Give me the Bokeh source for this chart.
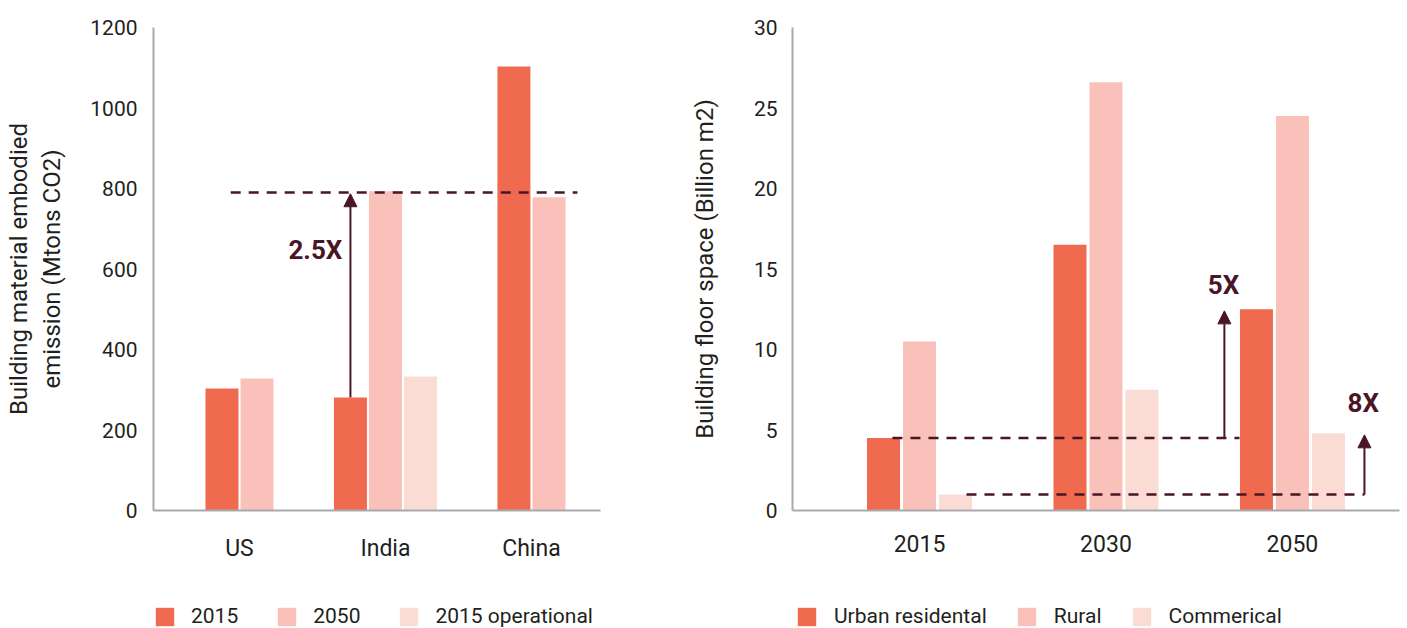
from bokeh.plotting import figure
from bokeh.models import (Range1d, FixedTicker, Legend, LegendItem, Arrow, NormalHead, Label)
from bokeh.layouts import row, column
from bokeh.embed import file_html
from bokeh.resources import INLINE

# ---------------- data ----------------
countries = ["US", "India", "China"]
emb_2015 = [303, 281, 1103]
emb_2050 = [328, 793, 778]
op_2015 = [None, 333, None]
left_series = [("2015", emb_2015), ("2050", emb_2050), ("2015 operational", op_2015)]
left_ticks = [0, 200, 400, 600, 800, 1000, 1200]

years = ["2015", "2030", "2050"]
urban = [4.5, 16.5, 12.5]
rural = [10.5, 26.6, 24.5]
commercial = [1.0, 7.5, 4.8]
right_series = [("Urban residental", urban), ("Rural", rural), ("Commerical", commercial)]
right_ticks = [0, 5, 10, 15, 20, 25, 30]

# annotations (data units)
left_ref_level = 790
left_ref_x = [-0.06, 2.315]
left_arrow_top = 787
left_ann_text = "2.5X"
left_ann_pos = (0.52, 646)

right_ref1_x = [-0.145, 1.716]
right_arrow1 = (1.635, 12.4)
right_ann1 = ("5X", 1.63, 14.0)
right_ref2_x = [0.252, 2.386]
right_arrow2 = (2.386, 4.7)
right_ann2 = ("8X", 2.38, 6.7)

# ---------------- style ----------------
COLORS = ["#F06A50", "#F9C1B9", "#FADCD5"]
MAROON = "#4A1526"
TEXT = "#231F20"
AXIS = "#A7A9AC"
FONT = "Roboto"
MAIN_H = 600
LEG_H = 28
W1 = 687
W2 = 720


def bar_positions(series, step):
    n_groups = len(series[0][1])
    out = [([], []) for _ in series]
    for g in range(n_groups):
        present = [s for s in range(len(series)) if series[s][1][g] is not None]
        n = len(present)
        for k, s in enumerate(present):
            out[s][0].append(g + (k - (n - 1) / 2) * step)
            out[s][1].append(series[s][1][g])
    return out


def make_fig(width, xr, yr, border_lr, ticks_y, cats):
    p = figure(width=width, height=MAIN_H, x_range=Range1d(*xr), y_range=Range1d(*yr),
               output_backend="svg", toolbar_location=None,
               min_border_left=border_lr[0], min_border_right=border_lr[1],
               min_border_top=27, min_border_bottom=MAIN_H - 510)
    p.outline_line_color = None
    p.grid.visible = False
    p.yaxis.ticker = FixedTicker(ticks=ticks_y)
    p.xaxis.ticker = FixedTicker(ticks=list(range(len(cats))))
    p.xaxis.major_label_overrides = {i: c for i, c in enumerate(cats)}
    for ax in (p.xaxis, p.yaxis):
        ax.axis_line_color = AXIS
        ax.axis_line_width = 2
        ax.major_tick_line_color = None
        ax.minor_tick_line_color = None
        ax.major_label_text_font = FONT
        ax.major_label_text_color = TEXT
        ax.axis_label_text_font = FONT
        ax.axis_label_text_color = TEXT
        ax.axis_label_text_font_style = "normal"
    p.yaxis.major_label_text_font_size = "21px"
    p.xaxis.major_label_text_font_size = "23px"
    p.yaxis.axis_label_text_font_size = "24px"
    p.xaxis.major_label_standoff = 18
    p.yaxis.major_label_standoff = 10
    return p


def add_bars(p, series, step, width):
    pos = bar_positions(series, step)
    for (name, _), (xs, ys), col in zip(series, pos, COLORS):
        p.vbar(x=xs, top=ys, width=width, bottom=0, fill_color=col, line_color=None)


def legend_fig(width, series, x0, standoff, spacing):
    lf = figure(width=width, height=LEG_H, output_backend="svg", toolbar_location=None,
                x_axis_type=None, y_axis_type=None, min_border=0,
                x_range=Range1d(0, 1), y_range=Range1d(0, 1))
    lf.outline_line_color = None
    lf.grid.visible = False
    items = []
    for (name, _), col in zip(series, COLORS):
        # zero-height placeholder: only provides the legend swatch
        r = lf.vbar(x=[0], top=[0], bottom=0, width=0, fill_color=col, line_color=None)
        items.append(LegendItem(label=name, renderers=[r]))
    lg = Legend(items=items, orientation="horizontal", location=(x0, 0),
                glyph_width=23, glyph_height=23, label_standoff=standoff, spacing=spacing,
                padding=0, margin=0, border_line_color=None, background_fill_alpha=0,
                label_text_font=FONT, label_text_font_size="21px", label_text_color=TEXT)
    lf.add_layout(lg, "center")
    return lf


def arrow(p, x, y0, y1):
    p.add_layout(Arrow(end=NormalHead(size=13, fill_color=MAROON, line_color=MAROON),
                       x_start=x, y_start=y0, x_end=x, y_end=y1,
                       line_color=MAROON, line_width=2))


def ann(p, txt, x, y):
    p.add_layout(Label(x=x, y=y, text=txt, text_align="center", text_baseline="middle",
                       text_font=FONT, text_font_style="bold", text_font_size="26px",
                       text_color=MAROON))


# ---------------- left chart ----------------
p1 = make_fig(W1, (-0.589, 2.473), (0, 1200), (153, W1 - 600), left_ticks, countries)
p1.yaxis.axis_label = "Building material embodied\nemission (Mtons CO2)"
p1.yaxis.axis_label_standoff = 21
add_bars(p1, left_series, 0.24, 0.226)
p1.line(x=left_ref_x, y=[left_ref_level, left_ref_level], line_color=MAROON,
        line_width=2.5, line_dash="10 8")
india = countries.index("India")
x_arrow = bar_positions(left_series, 0.24)[0][0][india]
arrow(p1, x_arrow, emb_2015[india], left_arrow_top)
ann(p1, left_ann_text, *left_ann_pos)

# ---------------- right chart ----------------
p2 = make_fig(W2, (-0.681, 2.574), (0, 30), (792 - W1, 8), right_ticks, years)
p2.yaxis.axis_label = "Building floor space (Billion m2)"
p2.yaxis.axis_label_standoff = 32
p2.yaxis.major_label_standoff = 9
add_bars(p2, right_series, 0.193, 0.177)
p2.line(x=right_ref1_x, y=[urban[0], urban[0]], line_color=MAROON, line_width=2.5, line_dash="10 8")
p2.line(x=right_ref2_x, y=[commercial[0], commercial[0]], line_color=MAROON, line_width=2.5,
        line_dash="10 8")
arrow(p2, right_arrow1[0], urban[0], right_arrow1[1])
arrow(p2, right_arrow2[0], commercial[0], right_arrow2[1])
for txt, ax_, ay_ in (right_ann1, right_ann2):
    ann(p2, txt, ax_, ay_)

l1 = legend_fig(W1, left_series, 153, 15, 37)
l2 = legend_fig(W2, right_series, 795 - W1, 16, 28)

layout = column(row(p1, p2), row(l1, l2))
open("out.html", "w").write(file_html(layout, INLINE))
